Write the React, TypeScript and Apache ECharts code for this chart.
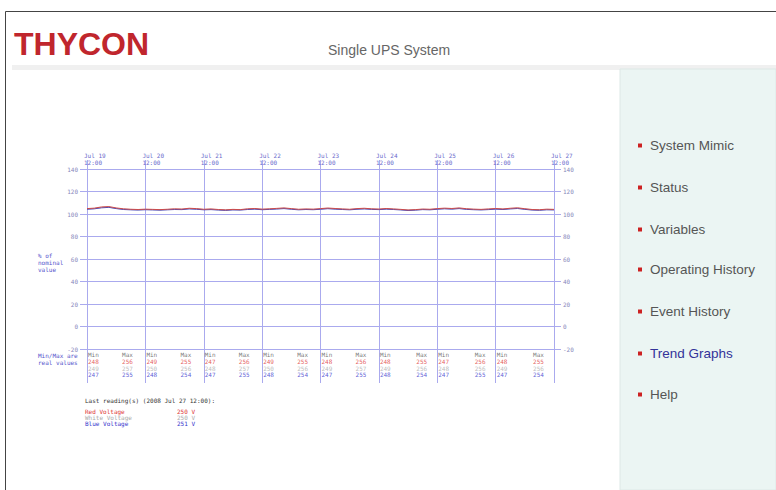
import React, { useEffect, useRef } from "react";
import * as echarts from "echarts";

// X axis: hours since Jul 19 12:00 (2008)
const tickLabels = [
  "Jul 19\n12:00", "Jul 20\n12:00", "Jul 21\n12:00", "Jul 22\n12:00", "Jul 23\n12:00",
  "Jul 24\n12:00", "Jul 25\n12:00", "Jul 26\n12:00", "Jul 27\n12:00",
];
const yTicks = [-20, 0, 20, 40, 60, 80, 100, 120, 140];

// 3-hourly samples, % of nominal
const redPhase = [
  104.8, 105.2, 106.3, 106.6, 105.4, 104.6, 104.2, 104.0,
  104.3, 104.1, 103.9, 104.2, 104.6, 104.4, 105.1, 104.8,
  104.2, 104.5, 104.0, 103.7, 104.1, 103.9, 104.6, 104.9,
  104.3, 104.6, 105.0, 105.4, 104.8, 104.2, 104.5, 104.3,
  104.8, 105.3, 104.9, 104.5, 104.2, 104.8, 105.1, 104.6,
  104.4, 104.9, 104.5, 104.1, 103.6, 103.9, 104.4, 104.2,
  104.8, 105.2, 104.9, 105.4, 104.7, 104.3, 104.1, 104.5,
  104.9, 104.5, 105.1, 105.5, 104.7, 104.0, 103.8, 104.3, 104.1,
];
const whitePhase = [
  104.5, 104.9, 105.8, 106.1, 105.0, 104.3, 104.0, 103.8,
  104.0, 103.9, 103.7, 104.0, 104.3, 104.2, 104.8, 104.5,
  104.0, 104.2, 103.8, 103.5, 103.9, 103.7, 104.3, 104.6,
  104.1, 104.3, 104.7, 105.1, 104.5, 104.0, 104.2, 104.1,
  104.5, 105.0, 104.6, 104.3, 104.0, 104.5, 104.8, 104.4,
  104.2, 104.6, 104.3, 103.9, 103.4, 103.7, 104.1, 104.0,
  104.5, 104.9, 104.6, 105.1, 104.4, 104.1, 103.9, 104.2,
  104.6, 104.3, 104.8, 105.2, 104.4, 103.8, 103.6, 104.0, 103.9,
];
const bluePhase = [
  104.2, 104.6, 105.5, 105.9, 104.8, 104.0, 103.7, 103.5,
  103.8, 103.6, 103.4, 103.7, 104.0, 103.9, 104.5, 104.2,
  103.7, 103.9, 103.5, 103.2, 103.6, 103.5, 104.0, 104.3,
  103.8, 104.1, 104.4, 104.8, 104.2, 103.7, 104.0, 103.8,
  104.2, 104.7, 104.3, 104.0, 103.7, 104.2, 104.5, 104.1,
  103.9, 104.3, 104.0, 103.6, 103.1, 103.4, 103.9, 103.7,
  104.2, 104.6, 104.3, 104.8, 104.1, 103.8, 103.6, 103.9,
  104.3, 104.0, 104.5, 104.9, 104.1, 103.5, 103.3, 103.7, 103.6,
];

// Daily min / max (real volts), positions in hours since start
const minAt = [0, 24, 48, 72, 96, 120, 144, 168];
const minRed = [248, 249, 247, 249, 248, 248, 247, 248];
const minWhite = [249, 250, 248, 250, 249, 249, 248, 249];
const minBlue = [247, 248, 247, 248, 247, 248, 247, 247];
const maxAt = [14, 38, 62, 86, 110, 135, 159, 183];
const maxRed = [256, 255, 256, 255, 256, 255, 256, 255];
const maxWhite = [257, 256, 257, 256, 257, 256, 256, 256];
const maxBlue = [255, 254, 255, 254, 255, 254, 255, 254];

const menuItems = ["System Mimic", "Status", "Variables", "Operating History", "Event History", "Trend Graphs", "Help"];
const menuY = [145, 187, 229, 269, 311, 353, 394];

const GRID = "#aaaaee";
const MONO = "DejaVu Sans Mono, monospace";
const SANS = "Liberation Sans, Arial, sans-serif";

export default function App() {
  const ref = useRef<HTMLDivElement>(null);
  useEffect(() => {
    if (!ref.current) return;
    const chart = echarts.init(ref.current, null, { renderer: "svg" });
    const step = 3;
    const toPts = (arr: number[]) => arr.map((v, i) => [i * step, v]);
    const mm: any[] = [];
    minAt.forEach((x, i) => mm.push({ value: [x, -20], k: "Min", r: minRed[i], w: minWhite[i], b: minBlue[i] }));
    maxAt.forEach((x, i) => mm.push({ value: [x, -20], k: "Max", r: maxRed[i], w: maxWhite[i], b: maxBlue[i] }));

    const menuGraphics: any[] = [];
    menuItems.forEach((t, i) => {
      menuGraphics.push({ type: "rect", shape: { x: 638, y: menuY[i] - 1.5, width: 4, height: 4 }, style: { fill: "#cc2222" } });
      menuGraphics.push({
        type: "text", x: 650, y: menuY[i],
        style: { text: t, fill: t === "Trend Graphs" ? "#333399" : "#555555", font: `13.5px ${SANS}`, verticalAlign: "middle" },
      });
    });

    chart.setOption({
      animation: false,
      backgroundColor: "#ffffff",
      grid: [
        { left: 87, right: 222, top: 169, bottom: 141 },
        { left: 87, right: 222, top: 160, bottom: 107 },
      ],
      xAxis: [
        {
          type: "value", gridIndex: 0, position: "top", min: 0, max: 192, interval: 24,
          axisLine: { show: false }, axisTick: { show: false }, splitLine: { show: false },
          axisLabel: {
            formatter: (v: number) => tickLabels[Math.round(v / 24)] ?? "",
            fontSize: 6, lineHeight: 7, color: "#6a6acc", fontFamily: MONO, align: "left",
            padding: [0, 0, 0, -3], margin: 3, showMinLabel: true, showMaxLabel: true,
          },
        },
        {
          type: "value", gridIndex: 1, min: 0, max: 192, interval: 24,
          axisLine: { show: false }, axisTick: { show: false }, axisLabel: { show: false },
          splitLine: { show: true, lineStyle: { color: GRID, width: 1 } },
        },
      ],
      yAxis: [
        {
          type: "value", gridIndex: 0, min: -20, max: 140, interval: 20, position: "left",
          axisLine: { show: false },
          axisTick: { show: true, length: 7, lineStyle: { color: GRID } },
          axisLabel: { fontSize: 6, color: "#8888bb", fontFamily: MONO, margin: 9, formatter: (v: number) => (yTicks.includes(v) ? String(v) : "") },
          splitLine: { show: true, lineStyle: { color: GRID, width: 1 } },
        },
        {
          type: "value", gridIndex: 0, min: -20, max: 140, interval: 20, position: "right",
          axisLine: { show: false },
          axisTick: { show: true, length: 7, lineStyle: { color: GRID } },
          axisLabel: { fontSize: 6, color: "#8888bb", fontFamily: MONO, margin: 9 },
          splitLine: { show: false },
        },
        { type: "value", gridIndex: 1, min: 0, max: 1, show: false, splitLine: { show: false } },
      ],
      series: [
        { type: "line", name: "White", xAxisIndex: 0, yAxisIndex: 0, data: toPts(whitePhase), symbol: "none", lineStyle: { color: "#c8c8c8", width: 1 } },
        { type: "line", name: "Blue", xAxisIndex: 0, yAxisIndex: 0, data: toPts(bluePhase), symbol: "none", lineStyle: { color: "#4a4ab8", width: 1 } },
        { type: "line", name: "Red", xAxisIndex: 0, yAxisIndex: 0, data: toPts(redPhase), symbol: "none", lineStyle: { color: "#cc4a4a", width: 1 } },
        {
          type: "scatter", xAxisIndex: 0, yAxisIndex: 0, data: mm, symbolSize: 0, clip: false, silent: true,
          label: {
            show: true, position: "bottom", distance: 2, align: "left", offset: [1, 0],
            fontFamily: MONO, fontSize: 6, lineHeight: 6.8,
            formatter: (p: any) => `{k|${p.data.k}}\n{r|${p.data.r}}\n{w|${p.data.w}}\n{b|${p.data.b}}`,
            rich: {
              k: { color: "#555555", fontSize: 6, fontFamily: MONO, lineHeight: 6.8 },
              r: { color: "#dd3333", fontSize: 6, fontFamily: MONO, lineHeight: 6.8 },
              w: { color: "#aaaaaa", fontSize: 6, fontFamily: MONO, lineHeight: 6.8 },
              b: { color: "#3333cc", fontSize: 6, fontFamily: MONO, lineHeight: 6.8 },
            },
          },
        },
      ],
      graphic: [
        { type: "line", shape: { x1: 5.5, y1: 11.5, x2: 776, y2: 11.5 }, style: { stroke: "#444444", lineWidth: 1 } },
        { type: "line", shape: { x1: 5.5, y1: 11.5, x2: 5.5, y2: 490 }, style: { stroke: "#444444", lineWidth: 1 } },
        { type: "rect", shape: { x: 12, y: 65, width: 764, height: 5 }, style: { fill: "#f0f0f0" } },
        { type: "rect", shape: { x: 620, y: 69, width: 156, height: 421 }, style: { fill: "#ebf5f3", stroke: "#dde8e6", lineWidth: 1 } },
        { type: "text", x: 14, y: 44, style: { text: "THYCON", fill: "#c0262d", font: `bold 32px ${SANS}`, verticalAlign: "middle" } },
        { type: "text", x: 328, y: 50, style: { text: "Single UPS System", fill: "#666666", font: `14px ${SANS}`, verticalAlign: "middle" } },
        ...menuGraphics,
        { type: "text", x: 38, y: 252, style: { text: "% of\nnominal\nvalue", fill: "#5555cc", font: `6px ${MONO}`, lineHeight: 7 } },
        { type: "text", x: 38, y: 352, style: { text: "Min/Max are\nreal values", fill: "#5555cc", font: `6px ${MONO}`, lineHeight: 7 } },
        { type: "text", x: 85, y: 397, style: { text: "Last reading(s) (2008 Jul 27 12:00):", fill: "#333333", font: `6px ${MONO}` } },
        { type: "text", x: 85, y: 408, style: { text: "Red Voltage", fill: "#dd3333", font: `6px ${MONO}` } },
        { type: "text", x: 177, y: 408, style: { text: "250 V", fill: "#dd3333", font: `6px ${MONO}` } },
        { type: "text", x: 85, y: 414, style: { text: "White Voltage", fill: "#aaaaaa", font: `6px ${MONO}` } },
        { type: "text", x: 177, y: 414, style: { text: "250 V", fill: "#aaaaaa", font: `6px ${MONO}` } },
        { type: "text", x: 85, y: 420, style: { text: "Blue Voltage", fill: "#3333cc", font: `6px ${MONO}` } },
        { type: "text", x: 177, y: 420, style: { text: "251 V", fill: "#3333cc", font: `6px ${MONO}` } },
      ],
    });
    return () => chart.dispose();
  }, []);
  return <div ref={ref} style={{ position: "fixed", left: 0, top: 0, width: 776, height: 490 }} />;
}
